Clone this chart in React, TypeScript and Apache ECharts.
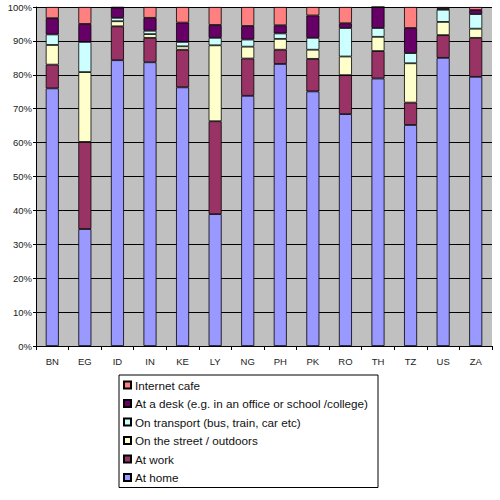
import React from 'react';
import * as echarts from 'echarts';

const countries = ['BN', 'EG', 'ID', 'IN', 'KE', 'LY', 'NG', 'PH', 'PK', 'RO', 'TH', 'TZ', 'US', 'ZA'];

const atHome = [76, 34.5, 84.3, 83.7, 76.3, 38.9, 73.8, 83.2, 75.1, 68.4, 78.9, 65.2, 85, 79.4];
const atWork = [7, 25.7, 10, 7.2, 11.1, 27.4, 11, 4.2, 9.6, 11.5, 8.1, 6.6, 6.7, 11.5];
const onStreet = [5.8, 20.6, 1.5, 1.1, 1, 22.4, 3.5, 3.2, 2.7, 5.5, 4.2, 11.6, 3.9, 2.7];
const onTransport = [3.1, 8.9, 1, 1, 1.3, 2.2, 2.1, 1.6, 3.5, 8.4, 2.6, 3, 3.6, 4.3];
const atDesk = [4.8, 5.3, 3, 3.8, 5.7, 3.8, 4, 2.4, 6.6, 1.4, 6.2, 7.4, 0.4, 1.2];
const internetCafe = [3.3, 5, 0.2, 3.2, 4.6, 5.3, 5.6, 5.4, 2.5, 4.8, 0, 6.2, 0.4, 0.9];

const seriesDefs = [
  { name: 'At home', data: atHome, color: '#9999FF' },
  { name: 'At work', data: atWork, color: '#993366' },
  { name: 'On the street / outdoors', data: onStreet, color: '#FFFFCC' },
  { name: 'On transport (bus, train, car etc)', data: onTransport, color: '#CCFFFF' },
  { name: 'At a desk (e.g. in an office or school /college)', data: atDesk, color: '#660066' },
  { name: 'Internet cafe', data: internetCafe, color: '#FF8080' },
];

const FONT = '"Liberation Sans", Arial, sans-serif';

export default function App() {
  const chartRef = React.useRef<HTMLDivElement>(null);

  React.useEffect(() => {
    if (!chartRef.current) return;
    const chart = echarts.init(chartRef.current, null, { renderer: 'svg' });

    chart.setOption({
      animation: false,
      backgroundColor: '#fff',
      textStyle: { fontFamily: FONT },
      grid: {
        left: 36,
        right: 8,
        top: 7,
        bottom: 154,
        show: true,
        backgroundColor: '#C0C0C0',
        borderWidth: 0,
      },
      legend: {
        orient: 'vertical',
        left: 119,
        top: 375,
        data: seriesDefs.map((s) => s.name).reverse(),
        itemWidth: 7,
        itemHeight: 7,
        itemGap: 6.5,
        padding: [4, 10, 4, 4],
        borderColor: '#000',
        borderWidth: 1,
        icon: 'rect',
        textStyle: { fontFamily: FONT, fontSize: 11.7, color: '#111', padding: [0, 0, 0, -1] },
      },
      xAxis: {
        type: 'category',
        data: countries,
        axisLine: { lineStyle: { color: '#000' } },
        axisTick: { show: true, length: 4, lineStyle: { color: '#000' } },
        axisLabel: { fontFamily: FONT, fontSize: 9.5, color: '#222', margin: 10 },
      },
      yAxis: {
        type: 'value',
        min: 0,
        max: 100,
        interval: 10,
        axisLine: { show: true, lineStyle: { color: '#000' } },
        axisTick: { show: true, length: 3, lineStyle: { color: '#000' } },
        axisLabel: { formatter: '{value}%', fontFamily: FONT, fontSize: 9.5, color: '#222', margin: 4 },
        splitLine: { lineStyle: { color: '#000', width: 1 } },
      },
      series: seriesDefs.map((s) => ({
        name: s.name,
        type: 'bar',
        stack: 'total',
        data: s.data,
        barCategoryGap: '60%',
        itemStyle: { color: s.color, borderColor: '#000', borderWidth: 0.8 },
      })),
    });

    return () => {
      chart.dispose();
    };
  }, []);

  return (
    <div
      ref={chartRef}
      style={{ position: 'fixed', left: 0, top: 0, width: 500, height: 500 }}
    />
  );
}
